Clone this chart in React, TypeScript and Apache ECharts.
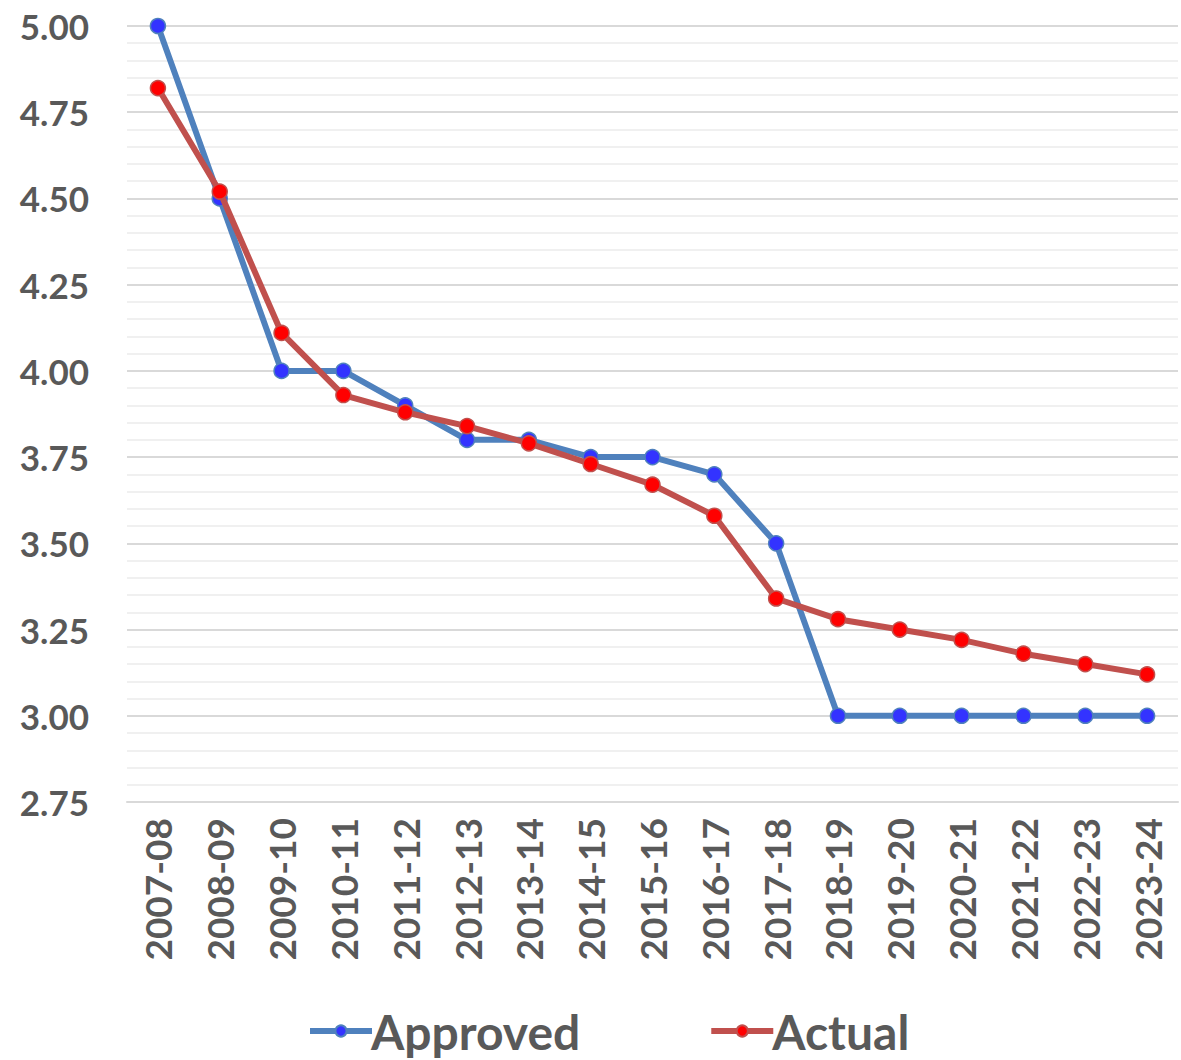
import React, { useEffect, useRef } from "react";
import * as echarts from "echarts";

const categories = [
  "2007-08", "2008-09", "2009-10", "2010-11", "2011-12", "2012-13", "2013-14", "2014-15",
  "2015-16", "2016-17", "2017-18", "2018-19", "2019-20", "2020-21", "2021-22", "2022-23", "2023-24",
];
const approved = [5.0, 4.5, 4.0, 4.0, 3.9, 3.8, 3.8, 3.75, 3.75, 3.7, 3.5, 3.0, 3.0, 3.0, 3.0, 3.0, 3.0];
const actual = [4.82, 4.52, 4.11, 3.93, 3.88, 3.84, 3.79, 3.73, 3.67, 3.58, 3.34, 3.28, 3.25, 3.22, 3.18, 3.15, 3.12];

const FONT = "Lato, 'Open Sans', sans-serif";

export default function App() {
  const ref = useRef<HTMLDivElement>(null);
  useEffect(() => {
    if (!ref.current) return;
    const chart = echarts.init(ref.current, undefined, { renderer: "svg" });
    chart.setOption({
      animation: false,
      grid: { left: 127, right: 3, top: 26, bottom: 258 },
      legend: {
        bottom: 0,
        left: 302,
        itemWidth: 62,
        itemHeight: 14,
        itemGap: 128,
        lineStyle: { width: 6 },
        textStyle: { fontSize: 48, fontWeight: "bold", color: "#595959", fontFamily: FONT, padding: [0, 0, 0, -6] },
        data: ["Approved", "Actual"],
      },
      xAxis: {
        type: "category",
        data: categories,
        boundaryGap: true,
        axisLine: { show: true, lineStyle: { color: "#d9d9d9", width: 2 } },
        axisTick: { show: false },
        axisLabel: {
          rotate: 90,
          fontSize: 37,
          fontWeight: "bold",
          color: "#595959",
          fontFamily: FONT,
          margin: 16,
          interval: 0,
        },
      },
      yAxis: {
        type: "value",
        min: 2.75,
        max: 5.0,
        interval: 0.25,
        axisLine: { show: false },
        axisTick: { show: false },
        axisLabel: {
          formatter: (v: number) => v.toFixed(2),
          fontSize: 35,
          fontWeight: "bold",
          color: "#595959",
          fontFamily: FONT,
          margin: 38,
        },
        splitLine: { lineStyle: { color: "#d9d9d9", width: 2 } },
        minorTick: { show: false, splitNumber: 5 },
        minorSplitLine: { show: true, lineStyle: { color: "#f0f0f0", width: 2 } },
      },
      series: [
        {
          name: "Approved",
          type: "line",
          data: approved,
          symbol: "circle",
          symbolSize: 15,
          lineStyle: { color: "#4f81bd", width: 6 },
          itemStyle: { color: "#3333ff", borderColor: "#4f81bd", borderWidth: 1.5 },
          z: 2,
        },
        {
          name: "Actual",
          type: "line",
          data: actual,
          symbol: "circle",
          symbolSize: 15,
          lineStyle: { color: "#c0504d", width: 6 },
          itemStyle: { color: "#ff0000", borderColor: "#c0504d", borderWidth: 1.5 },
          z: 3,
        },
      ],
    });
    return () => chart.dispose();
  }, []);
  return (
    <div
      ref={ref}
      style={{ position: "absolute", left: 0, top: 0, width: 1181, height: 1060, background: "#fff" }}
    />
  );
}
